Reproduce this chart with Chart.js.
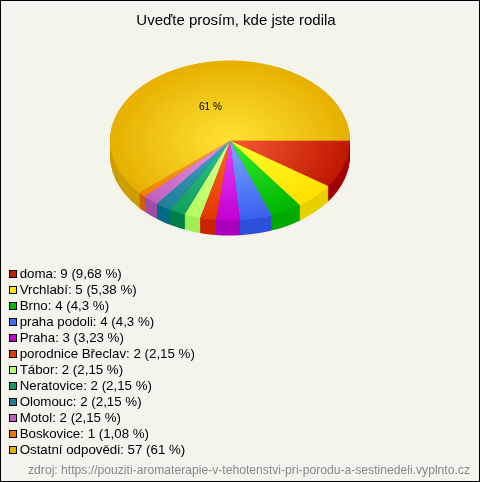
<!DOCTYPE html>
<html><head><meta charset="utf-8">
<style>html,body{margin:0;padding:0;background:#f5f4ec}#w{width:480px;height:482px;position:relative}canvas{display:block}</style>
<script src="https://cdn.jsdelivr.net/npm/chart.js@4"></script>
</head><body><div id="w"><canvas id="c" width="480" height="482"></canvas></div>
<script>
const categories=['doma','Vrchlabí','Brno','praha podoli','Praha','porodnice Břeclav','Tábor','Neratovice','Olomouc','Motol','Boskovice','Ostatní odpovědi'];
const values=[9,5,4,4,3,2,2,2,2,2,1,57];
const percents=['9,68','5,38','4,3','4,3','3,23','2,15','2,15','2,15','2,15','2,15','1,08','61'];
const legendColors=['#c02000','#ffe600','#00b800','#3f6cf5','#c400d0','#e03c00','#b8ff70','#109c60','#207c98','#b860c0','#e87800','#e6b000'];
const innerColors=['#f55a35','#ffff30','#30f030','#80a8ff','#f040ff','#ff6820','#e4ff98','#30c488','#40a4c4','#e498e4','#ffa428','#ffe335'];
const outerColors=['#c01800','#ffe000','#00b400','#3860f0','#c000d0','#e03800','#b0ff60','#10a060','#208098','#c060c0','#f08000','#e6b000'];
const sideColors=['#a00000','#e6d000','#00aa00','#2d50dc','#aa00bb','#cc2200','#a0ee55','#008048','#006c88','#a04ca8','#d06000','#cc9e00'];
const titleText='Uveďte prosím, kde jste rodila';
const sourceText='zdroj: https://pouziti-aromaterapie-v-tehotenstvi-pri-porodu-a-sestinedeli.vyplnto.cz';
const bigLabel='61 %';
const pieRadius=120,pieSquash=0.667,pieDepth=15,pieX=230,pieY=140.5;

function swatch(color){
 const s=document.createElement('canvas');s.width=12;s.height=8;
 const x=s.getContext('2d');x.fillStyle=color;x.fillRect(4,0,8,8);
 x.strokeStyle='#000';x.lineWidth=1;x.strokeRect(4.5,.5,7,7);return s;
}

const pie3d={id:'pie3d',
 beforeDraw(ch){const x=ch.ctx;x.save();x.fillStyle='#f5f4ec';x.fillRect(0,0,480,482);x.strokeStyle='#000';x.lineWidth=1;x.strokeRect(.5,.5,479,481);x.restore();},
 afterLayout(ch){
  ch.legend.left=6.3;ch.legend.top=264.65;ch.legend.bottom=481;
  ch.titleBlock.left-=4;ch.titleBlock.right-=4;
  const s=ch.boxes.find(b=>b.options&&b.options.text===sourceText);
  if(s){s.right-=10;s.left-=10;}
 },
 beforeDatasetsDraw(ch){
  const x=ch.ctx,arcs=ch.getDatasetMeta(0).data,a0=arcs[0];
  x.save();
  x.translate(pieX,pieY);x.scale(1,pieSquash);x.translate(-a0.x,-a0.y);
  for(let d=pieDepth;d>=1;d--){
   x.save();x.translate(0,d/pieSquash);
   arcs.forEach((a,i)=>{const o=a.options;a.options={...o,backgroundColor:sideColors[i]};a.draw(x);a.options=o;});
   x.restore();
  }
 },
 afterDatasetsDraw(ch){
  const x=ch.ctx;x.restore();
  const a=ch.getDatasetMeta(0).data[11],m=(a.startAngle+a.endAngle)/2,r=a.outerRadius*0.47;
  x.save();x.fillStyle='#000';x.font='10px "Liberation Sans"';x.textAlign='center';x.textBaseline='middle';
  x.fillText(bigLabel,pieX+Math.cos(m)*r,pieY+2+Math.sin(m)*r*pieSquash);x.restore();
 }};

new Chart(document.getElementById('c'),{type:'pie',
 data:{labels:categories,datasets:[{data:values,borderWidth:0,radius:pieRadius,
  backgroundColor(c){const ca=c.chart.chartArea;if(!ca)return legendColors[c.dataIndex];
   const cx=(ca.left+ca.right)/2,cy=(ca.top+ca.bottom)/2;
   const g=c.chart.ctx.createRadialGradient(cx,cy,0,cx,cy,pieRadius);
   g.addColorStop(0,innerColors[c.dataIndex]);g.addColorStop(1,outerColors[c.dataIndex]);return g;}}]},
 plugins:[pie3d],
 options:{responsive:false,animation:false,rotation:90,layout:{padding:0},
  plugins:{
   tooltip:{enabled:false},
   title:{display:true,text:titleText,color:'#000',font:{family:'"Liberation Sans"',size:15,weight:'normal',lineHeight:1.2},padding:{top:12,bottom:9}},
   subtitle:{display:true,position:'bottom',align:'end',text:sourceText,color:'#888',font:{family:'"Liberation Sans"',size:12.15,weight:'normal',lineHeight:1.2},padding:{top:4,bottom:4}},
   legend:{display:true,position:'chartArea',align:'start',
    labels:{usePointStyle:true,pointStyleWidth:4,boxWidth:8,boxHeight:8,padding:2.7,color:'#000',font:{family:'"Liberation Sans"',size:13.3,lineHeight:'15px'},
     generateLabels(){return categories.map((n,i)=>({text:n+': '+values[i]+' ('+percents[i]+' %)',pointStyle:swatch(legendColors[i]),fillStyle:legendColors[i],strokeStyle:'#000',lineWidth:1,hidden:false,index:i}));}}}
  }}});
</script></body></html>
